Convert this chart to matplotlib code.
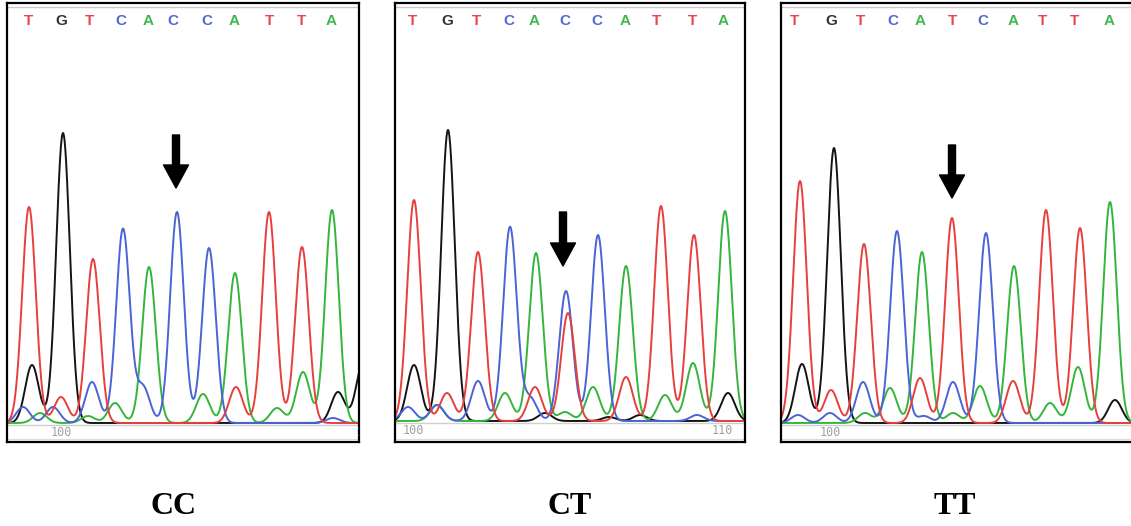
import numpy as np
import matplotlib
matplotlib.use("Agg")
import matplotlib.pyplot as plt

######################################################## Data ######################################################
# positions are scan units from the left edge of each trace window, heights are signal above baseline
GENOTYPES = ["CC", "CT", "TT"]

CC_CALLS = ["T", "G", "T", "C", "A", "C", "C", "A", "T", "T", "A"]
CC_CALL_POS = [21, 54, 82, 114, 141, 166, 200, 227, 262, 294, 324]
CC_PEAK_BASE = ["T", "G", "T", "C", "A", "C", "C", "A", "T", "T", "A",
                "G", "C", "C", "T", "A", "C", "A", "C", "A", "T", "A", "A", "G", "G", "C", "A"]
CC_PEAK_POS = [22, 56, 86, 116, 142, 170, 202, 228, 262, 295, 325,
               25, 16, 46, 54, 33, 85, 108, 136, 196, 229, 270, 296, 331, 356, 326, 81]
CC_PEAK_HEIGHT = [216, 290, 164, 194, 156, 211, 175, 150, 211, 176, 213,
                  58, 16, 16, 26, 10, 41, 20, 36, 29, 36, 15, 51, 31, 60, 5, 7]

CT_CALLS = ["T", "G", "T", "C", "A", "C", "C", "A", "T", "T", "A"]
CT_CALL_POS = [18, 52, 82, 114, 139, 170, 202, 230, 262, 297, 328]
CT_PEAK_BASE = ["T", "G", "T", "C", "A", "C", "T", "C", "A", "T", "T", "A",
                "G", "C", "C", "A", "T", "C", "A", "T", "C", "G", "A", "A", "T", "A", "A", "G", "C", "G", "G"]
CT_PEAK_POS = [19, 53, 83, 115, 141, 171, 173, 203, 231, 266, 299, 330,
               19, 13, 42, 42, 52, 83, 110, 140, 135, 150, 170, 198, 231, 270, 298, 333, 302, 214, 245]
CT_PEAK_HEIGHT = [221, 291, 169, 194, 168, 130, 108, 186, 155, 215, 186, 210,
                  56, 14, 16, 16, 28, 40, 28, 34, 23, 8, 9, 34, 44, 26, 58, 28, 6, 4, 6]

TT_CALLS = ["T", "G", "T", "C", "A", "T", "C", "A", "T", "T", "A"]
TT_CALL_POS = [14, 50, 80, 112, 139, 171, 202, 232, 262, 294, 328]
TT_PEAK_BASE = ["T", "G", "T", "C", "A", "T", "C", "A", "T", "T", "A",
                "G", "C", "C", "T", "A", "C", "A", "T", "C", "C", "A", "A", "T", "A", "A", "G"]
TT_PEAK_POS = [19, 53, 83, 116, 141, 171, 205, 233, 265, 299, 329,
               21, 17, 49, 50, 84, 82, 109, 139, 143, 172, 172, 199, 232, 269, 297, 334]
TT_PEAK_HEIGHT = [242, 275, 179, 192, 171, 205, 190, 157, 213, 195, 221,
                  59, 8, 10, 33, 10, 41, 35, 45, 7, 41, 10, 37, 42, 20, 56, 23]

CC_TICKS = [54, 360]
CT_TICKS = [18, 327]
TT_TICKS = [49]
TICK_LABELS = ["100", "110"]
###################################################################################################################################################

TRACE_COLORS = {"A": "#35b53c", "C": "#4a63d6", "G": "#141414", "T": "#e6403d"}
CALL_COLORS = {"A": "#3fb84d", "C": "#5068d2", "G": "#333333", "T": "#e5494f"}
PEAK_SIGMA = 6.8

FIG_W, FIG_H = 1131, 526
# panel boxes in pixels: left, width, baseline row
PANELS = [(7, 352, 423), (395, 350, 421), (781, 352, 423)]
BOX_TOP, BOX_BOTTOM = 3, 442
ARROWS = [(169, 288, 235), (168, 209, 155), (171, 278, 225)]
LABEL_X = [173, 570, 955]


def trace(x, bases, pos, height, channel):
    y = np.zeros_like(x)
    for b, p, h in zip(bases, pos, height):
        if b == channel:
            y += h * np.exp(-0.5 * ((x - p) / PEAK_SIGMA) ** 2)
    return y


def draw_panel(fig, panel, calls, call_pos, bases, pos, height, ticks, arrow):
    left, width, base_row = panel
    ax = fig.add_axes([left / FIG_W, (FIG_H - BOX_BOTTOM) / FIG_H,
                       width / FIG_W, (BOX_BOTTOM - BOX_TOP) / FIG_H])
    ax.set_xlim(0, width)
    ax.set_ylim(base_row - BOX_BOTTOM, base_row - BOX_TOP)
    ax.set_xticks([])
    ax.set_yticks([])
    for s in ax.spines.values():
        s.set_linewidth(1.6)
        s.set_color("black")

    top = base_row - BOX_TOP
    ax.axhline(top - 4, color="#c8c8c8", lw=1.0)
    ax.axhline(-2, color="#cfcfcf", lw=1.0)
    ax.axhline(base_row - BOX_BOTTOM + 3, color="#dcdcdc", lw=0.8)

    x = np.linspace(0, width, 1400)
    for ch in ["G", "A", "C", "T"]:
        ax.plot(x, trace(x, bases, pos, height, ch), color=TRACE_COLORS[ch], lw=1.4)

    for c, p in zip(calls, call_pos):
        ax.text(p, top - 18, c, color=CALL_COLORS[c], fontsize=11, fontweight="bold",
                family="Liberation Sans", ha="center", va="center")

    for t, lab in zip(ticks, TICK_LABELS):
        ax.text(t, -10, lab, color="#a0a0a0", fontsize=8.5, family="DejaVu Sans Mono",
                ha="center", va="center", clip_on=True)

    ax_x, ax_top, ax_tip = arrow
    ax.annotate("", xy=(ax_x, ax_tip), xytext=(ax_x, ax_top),
                arrowprops=dict(arrowstyle="simple,head_length=0.46,head_width=0.5,tail_width=0.14",
                                mutation_scale=36, color="black", shrinkA=0, shrinkB=0))
    return ax


def main():
    fig = plt.figure(figsize=(FIG_W / 100, FIG_H / 100), dpi=100)
    draw_panel(fig, PANELS[0], CC_CALLS, CC_CALL_POS, CC_PEAK_BASE, CC_PEAK_POS, CC_PEAK_HEIGHT, CC_TICKS, ARROWS[0])
    draw_panel(fig, PANELS[1], CT_CALLS, CT_CALL_POS, CT_PEAK_BASE, CT_PEAK_POS, CT_PEAK_HEIGHT, CT_TICKS, ARROWS[1])
    draw_panel(fig, PANELS[2], TT_CALLS, TT_CALL_POS, TT_PEAK_BASE, TT_PEAK_POS, TT_PEAK_HEIGHT, TT_TICKS, ARROWS[2])

    for lab, lx in zip(GENOTYPES, LABEL_X):
        fig.text(lx / FIG_W, 1 - 506 / FIG_H, lab, family="Liberation Serif", fontweight="bold",
                 fontsize=23, ha="center", va="center")

    fig.savefig("out.png", dpi=100)


if __name__ == "__main__":
    main()
